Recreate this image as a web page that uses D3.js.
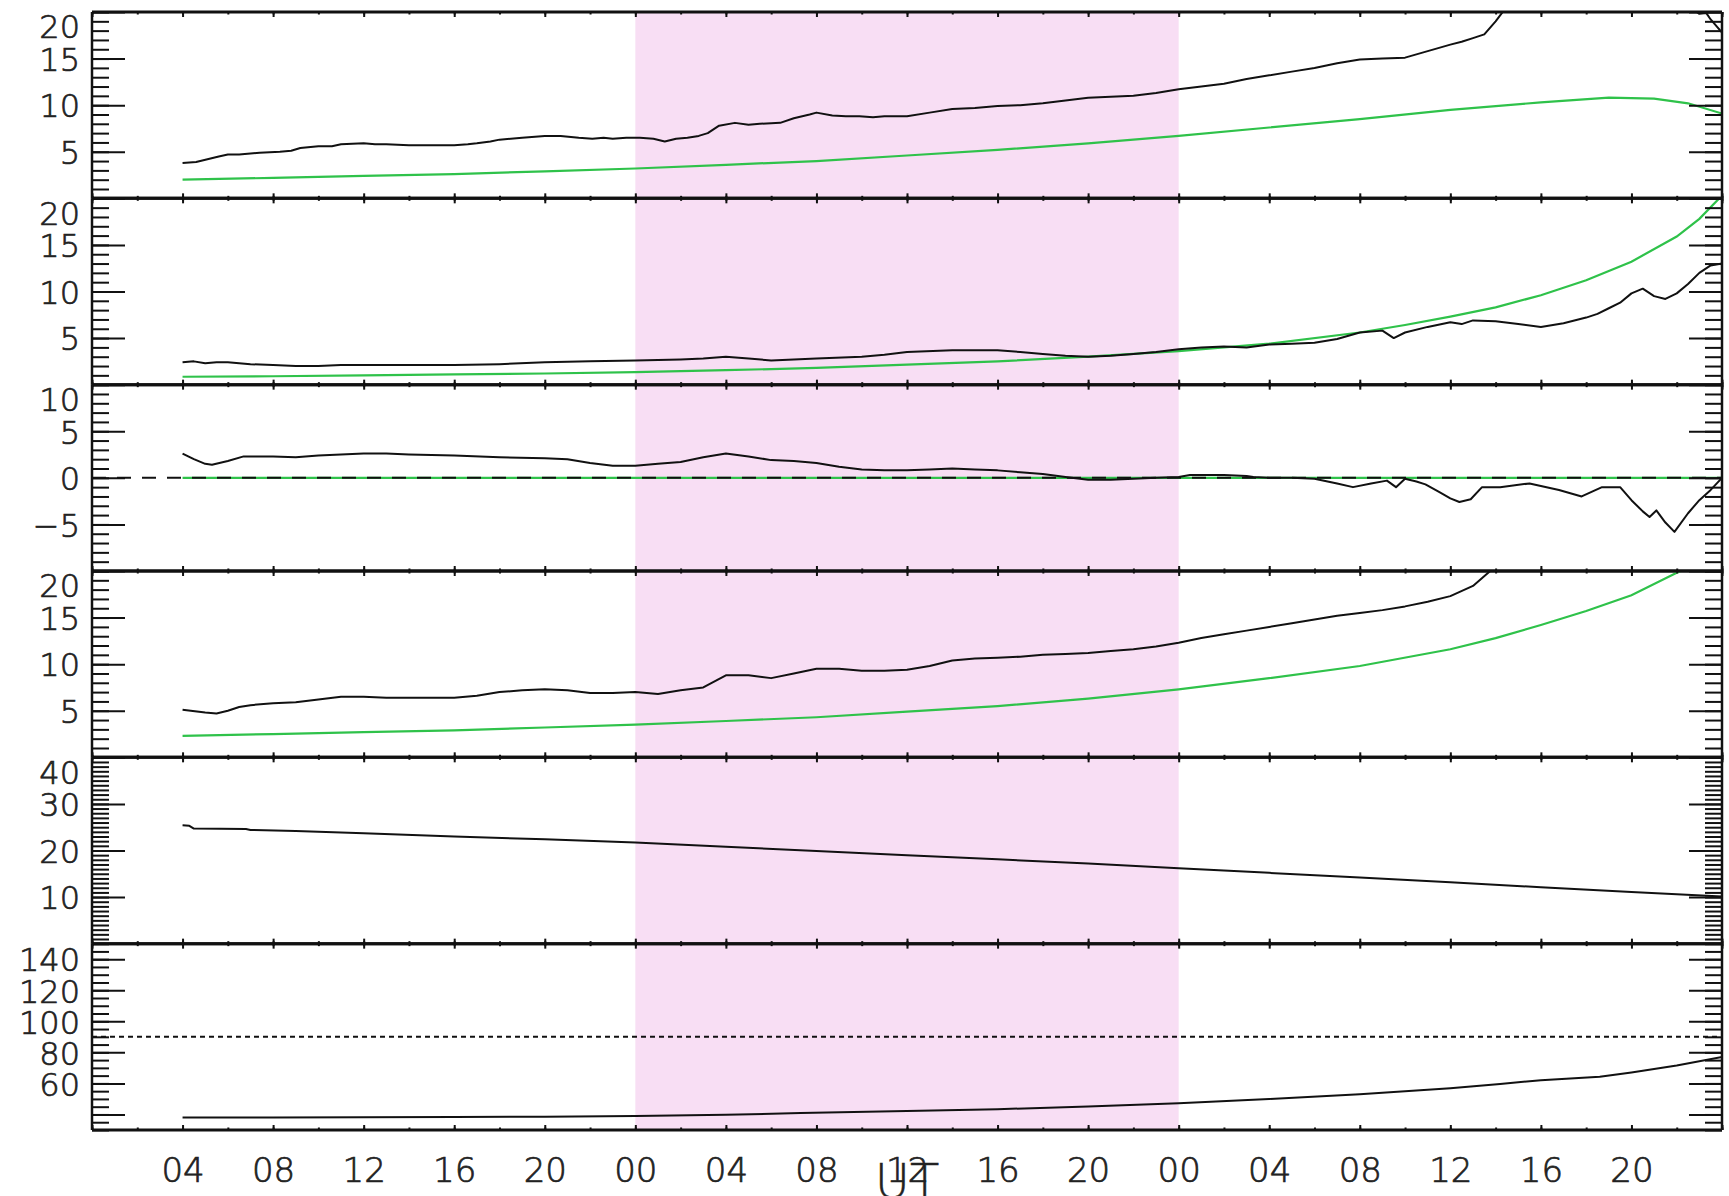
<!DOCTYPE html>
<html>
<head>
<meta charset="utf-8">
<script src="https://cdn.jsdelivr.net/npm/d3@7"></script>
<style>
  html, body { margin: 0; padding: 0; background: #fff; }
  svg { display: block; }
  text { font-family: "DejaVu Sans", sans-serif; font-weight: 200; fill: #222; stroke: #222; stroke-width: 0.7px; }
</style>
</head>
<body>
<svg id="chart" width="1729" height="1196"></svg>
<script>
// ---- time axis: hours counted from 00 UT of the first day ----
const hourDomain = [0, 72];
const majorHours = d3.range(0, 73, 4);
const minorHours = d3.range(0, 73, 2);
const labelHours = d3.range(4, 72, 4);
const shadeSpan = [24, 48];

// ---- panel y ranges and tick settings ----
const panelDomains = [[0, 20], [0, 20], [-10, 10], [0, 20], [0, 40], [30, 150]];
const majorTicks = [
  [5, 10, 15, 20], [5, 10, 15, 20], [-5, 0, 5, 10], [5, 10, 15, 20],
  [10, 20, 30, 40], [40, 60, 80, 100, 120, 140]
];
const labelTicks = [
  [5, 10, 15, 20], [5, 10, 15, 20], [-5, 0, 5, 10], [5, 10, 15, 20],
  [10, 20, 30, 40], [60, 80, 100, 120, 140]
];
const minorSteps = [1, 1, 1, 1, 1, 5];

// ---- series: [hour, value] ----
const p1Obs = [
  [4, 3.8], [4.6, 3.9], [5.1, 4.2], [5.6, 4.5], [6, 4.7], [6.5, 4.7], [7, 4.8], [7.4, 4.9],
  [8.3, 5.0], [8.8, 5.1], [9.2, 5.4], [10, 5.6], [10.6, 5.6], [11, 5.8], [12, 5.9], [12.5, 5.8],
  [13, 5.8], [14, 5.7], [15, 5.7], [16, 5.7], [16.6, 5.8], [17, 5.9], [17.6, 6.1], [18, 6.3],
  [19, 6.5], [20, 6.7], [20.7, 6.7], [21.5, 6.5], [22.1, 6.4], [22.6, 6.5], [23, 6.4],
  [23.6, 6.5], [24.2, 6.5], [24.8, 6.4], [25.3, 6.1], [25.8, 6.4], [26.3, 6.5], [26.8, 6.7],
  [27.2, 7.0], [27.7, 7.8], [28.4, 8.1], [29, 7.9], [29.5, 8.0], [30.4, 8.1], [31, 8.6],
  [31.7, 9.0], [32, 9.2], [32.7, 8.9], [33.3, 8.8], [33.9, 8.8], [34.5, 8.7], [35, 8.8],
  [36, 8.8], [37, 9.2], [38, 9.6], [39, 9.7], [40, 9.9], [41, 10.0], [42, 10.2], [43, 10.5],
  [44, 10.8], [45, 10.9], [46, 11.0], [47, 11.3], [48, 11.7], [49, 12.0], [50, 12.3],
  [51, 12.8], [52, 13.2], [53, 13.6], [54, 14.0], [55, 14.5], [56, 14.9], [57, 15.0],
  [58, 15.1], [59, 15.8], [60, 16.5], [60.5, 16.8], [61, 17.2], [61.5, 17.6], [62, 19.0],
  [62.5, 20.6], [63, 22.0], [65, 23.5], [68, 24.0], [70, 22.0], [70.6, 20.5], [71, 19.8],
  [71.3, 19.9], [71.5, 19.2], [72, 17.8]
];
const p1Model = [
  [4, 2.0], [8, 2.2], [12, 2.4], [16, 2.6], [20, 2.9], [24, 3.2], [28, 3.6], [32, 4.0],
  [36, 4.6], [40, 5.2], [44, 5.9], [48, 6.7], [52, 7.6], [56, 8.5], [60, 9.5], [64, 10.3],
  [67, 10.8], [69, 10.7], [70.5, 10.2], [72, 9.1]
];
const p2Obs = [
  [4, 2.4], [4.5, 2.5], [5, 2.3], [5.5, 2.4], [6, 2.4], [6.5, 2.3], [7, 2.2], [8, 2.1],
  [9, 2.0], [10, 2.0], [11, 2.1], [12, 2.1], [14, 2.1], [16, 2.1], [18, 2.2], [20, 2.4],
  [22, 2.5], [24, 2.6], [26, 2.7], [27, 2.8], [28, 3.0], [29, 2.8], [30, 2.6], [32, 2.8],
  [34, 3.0], [35, 3.2], [36, 3.5], [38, 3.7], [40, 3.7], [41, 3.5], [42, 3.3], [43, 3.1],
  [44, 3.0], [45, 3.1], [46, 3.3], [47, 3.5], [48, 3.8], [49, 4.0], [50, 4.1], [51, 4.0],
  [52, 4.3], [53, 4.4], [54, 4.5], [55, 4.9], [56, 5.6], [57, 5.8], [57.5, 5.0], [58, 5.6],
  [59, 6.2], [60, 6.7], [60.5, 6.5], [61, 6.9], [62, 6.8], [63, 6.5], [64, 6.2], [65, 6.6],
  [66, 7.2], [66.5, 7.6], [67, 8.2], [67.5, 8.8], [68, 9.8], [68.5, 10.3], [69, 9.5],
  [69.5, 9.2], [70, 9.8], [70.5, 10.8], [71, 12.0], [71.5, 12.8], [72, 13.0]
];
const p2Model = [
  [4, 0.85], [8, 0.9], [12, 1.0], [16, 1.1], [20, 1.2], [24, 1.35], [28, 1.55], [32, 1.8],
  [36, 2.15], [40, 2.5], [44, 3.0], [48, 3.6], [52, 4.4], [56, 5.6], [58, 6.4], [60, 7.3],
  [62, 8.3], [64, 9.6], [66, 11.2], [68, 13.2], [70, 15.9], [71, 17.8], [72, 20.3]
];
const p3Obs = [
  [4, 2.6], [4.5, 2.0], [5, 1.5], [5.3, 1.4], [6, 1.8], [6.7, 2.3], [8, 2.3], [9, 2.2],
  [10, 2.4], [11, 2.5], [12, 2.6], [13, 2.6], [14, 2.5], [16, 2.4], [18, 2.2], [20, 2.1],
  [21, 2.0], [22, 1.6], [23, 1.3], [24, 1.3], [25, 1.5], [26, 1.7], [27, 2.2], [28, 2.6],
  [29, 2.3], [30, 1.9], [31, 1.8], [32, 1.6], [33, 1.2], [34, 0.9], [35, 0.8], [36, 0.8],
  [37, 0.9], [38, 1.0], [39, 0.9], [40, 0.8], [41, 0.6], [42, 0.4], [43, 0.1], [44, -0.2],
  [45, -0.2], [46, -0.1], [47, 0.0], [48, 0.1], [48.5, 0.3], [49, 0.3], [50, 0.3], [51, 0.2],
  [51.3, 0.1], [52, 0.0], [53, 0.0], [54, -0.1], [55, -0.6], [55.7, -1.0], [56.5, -0.6],
  [57.2, -0.3], [57.6, -1.0], [58, -0.1], [58.5, -0.4], [58.9, -0.7], [59.5, -1.5],
  [60, -2.2], [60.4, -2.6], [60.9, -2.3], [61.4, -1.0], [62.2, -1.0], [63.5, -0.6],
  [64.8, -1.3], [65.8, -2.0], [66.7, -1.0], [67.5, -1.0], [68, -2.4], [68.5, -3.6],
  [68.8, -4.2], [69.1, -3.5], [69.5, -4.8], [69.9, -5.8], [70.5, -3.8], [71, -2.4],
  [71.5, -1.3], [72, 0.0]
];
const p3Model = [[4, 0], [72, 0]];
const p4Obs = [
  [4, 5.1], [5, 4.8], [5.5, 4.7], [6, 5.0], [6.5, 5.4], [7, 5.6], [8, 5.8], [9, 5.9],
  [10, 6.2], [11, 6.5], [12, 6.5], [13, 6.4], [14, 6.4], [16, 6.4], [17, 6.6], [18, 7.0],
  [19, 7.2], [20, 7.3], [21, 7.2], [22, 6.9], [23, 6.9], [24, 7.0], [25, 6.8], [26, 7.2],
  [27, 7.5], [28, 8.8], [29, 8.8], [30, 8.5], [31, 9.0], [32, 9.5], [33, 9.5], [34, 9.3],
  [35, 9.3], [36, 9.4], [37, 9.8], [38, 10.4], [39, 10.6], [40, 10.7], [41, 10.8], [42, 11.0],
  [43, 11.1], [44, 11.2], [45, 11.4], [46, 11.6], [47, 11.9], [48, 12.3], [49, 12.8],
  [50, 13.2], [51, 13.6], [52, 14.0], [53, 14.4], [54, 14.8], [55, 15.2], [56, 15.5],
  [57, 15.8], [58, 16.2], [59, 16.7], [60, 17.3], [61, 18.4], [62, 20.5], [63, 22.0]
];
const p4Model = [
  [4, 2.3], [8, 2.5], [12, 2.7], [16, 2.9], [20, 3.2], [24, 3.5], [28, 3.9], [32, 4.3],
  [36, 4.9], [40, 5.5], [44, 6.3], [48, 7.3], [52, 8.5], [56, 9.8], [60, 11.6], [62, 12.8],
  [64, 14.2], [66, 15.7], [68, 17.4], [70, 19.8], [72, 22.0]
];
const p5Obs = [
  [4, 25.4], [4.3, 25.3], [4.5, 24.7], [6.8, 24.6], [7, 24.4], [9, 24.2], [12, 23.7],
  [16, 23.0], [20, 22.4], [24, 21.7], [28, 20.8], [32, 19.9], [36, 19.0], [40, 18.1],
  [44, 17.2], [48, 16.2], [52, 15.2], [56, 14.2], [60, 13.2], [64, 12.1], [68, 11.1], [72, 10.1]
];
const p6Obs = [
  [4, 38.0], [8, 38.0], [12, 38.2], [16, 38.4], [20, 38.6], [24, 39.0], [28, 39.8],
  [31.3, 40.9], [36, 42.2], [40, 43.4], [44, 45.1], [48, 47.2], [52, 50.0], [56, 53.0],
  [60, 56.8], [62.2, 59.6], [64, 62.1], [66.6, 64.3], [68, 67.0], [70, 71.5], [72, 77.0]
];

const observed = [p1Obs, p2Obs, p3Obs, p4Obs, p5Obs, p6Obs];
const modelled = [p1Model, p2Model, p3Model, p4Model, null, null];
const dashedLevels = [null, null, 0, null, null, null];
const dottedLevels = [null, null, null, null, null, 90];

// ---- layout ----
const W = 1729, H = 1196;
const plotL = 92, plotR = 1722, plotT = 12, panelH = 186.33;
const nPanels = panelDomains.length;
const plotB = plotT + nPanels * panelH;

const svg = d3.select("#chart");
svg.append("rect").attr("width", W).attr("height", H).attr("fill", "#fff");

const x = d3.scaleLinear().domain(hourDomain).range([plotL, plotR]);

// shaded interval across all panels
svg.append("rect")
  .attr("x", x(shadeSpan[0])).attr("y", plotT)
  .attr("width", x(shadeSpan[1]) - x(shadeSpan[0]))
  .attr("height", plotB - plotT)
  .attr("fill", "#f8def4");

const defs = svg.append("defs");
const fmtY = v => (v < 0 ? "\u2212" + Math.abs(v) : String(v));

panelDomains.forEach((dom, i) => {
  const y0 = plotT + i * panelH;
  const y = d3.scaleLinear().domain(dom).range([y0 + panelH, y0]);
  const g = svg.append("g");

  defs.append("clipPath").attr("id", "clip" + i)
    .append("rect").attr("x", plotL).attr("y", y0)
    .attr("width", plotR - plotL).attr("height", panelH);

  const line = d3.line().x(d => x(d[0])).y(d => y(d[1]));
  const plot = g.append("g").attr("clip-path", `url(#clip${i})`);

  if (modelled[i]) {
    plot.append("path").datum(modelled[i])
      .attr("d", line).attr("fill", "none")
      .attr("stroke", "#2fc24a").attr("stroke-width", 2.2);
  }
  if (dashedLevels[i] !== null) {
    plot.append("line")
      .attr("x1", plotL).attr("x2", plotR)
      .attr("y1", y(dashedLevels[i])).attr("y2", y(dashedLevels[i]))
      .attr("stroke", "#111").attr("stroke-width", 2)
      .attr("stroke-dasharray", "14,11");
  }
  if (dottedLevels[i] !== null) {
    plot.append("line")
      .attr("x1", plotL).attr("x2", plotR)
      .attr("y1", y(dottedLevels[i])).attr("y2", y(dottedLevels[i]))
      .attr("stroke", "#111").attr("stroke-width", 2)
      .attr("stroke-dasharray", "5,4");
  }
  plot.append("path").datum(observed[i])
    .attr("d", line).attr("fill", "none")
    .attr("stroke", "#111").attr("stroke-width", 2)
    .attr("stroke-linejoin", "round");

  // y minor ticks (left and right, pointing inward)
  const minors = d3.range(dom[0], dom[1] + 1e-9, minorSteps[i]);
  g.append("g").attr("transform", `translate(${plotL},0)`)
    .call(d3.axisLeft(y).tickValues(minors).tickSize(-17).tickSizeOuter(0).tickFormat(""));
  g.append("g").attr("transform", `translate(${plotR},0)`)
    .call(d3.axisRight(y).tickValues(minors).tickSize(-17).tickSizeOuter(0).tickFormat(""));

  // y major ticks
  g.append("g").attr("transform", `translate(${plotL},0)`)
    .call(d3.axisLeft(y).tickValues(majorTicks[i]).tickSize(-33).tickSizeOuter(0).tickFormat(""));
  g.append("g").attr("transform", `translate(${plotR},0)`)
    .call(d3.axisRight(y).tickValues(majorTicks[i]).tickSize(-33).tickSizeOuter(0).tickFormat(""));

  // y labels
  const labelAxis = g.append("g").attr("transform", `translate(${plotL},0)`)
    .call(d3.axisLeft(y).tickValues(labelTicks[i]).tickSize(0).tickPadding(12).tickFormat(fmtY));
  labelAxis.selectAll("text")
    .attr("font-size", 32)
    .attr("dy", v => (v === dom[1] ? 14 + 11.8 : 11.8) + "px");

  // x ticks on top and bottom edges of the panel
  [[d3.axisTop, y0], [d3.axisBottom, y0 + panelH]].forEach(([ax, yy]) => {
    g.append("g").attr("transform", `translate(0,${yy})`)
      .call(ax(x).tickValues(minorHours).tickSize(-2.5).tickSizeOuter(0).tickFormat(""));
    g.append("g").attr("transform", `translate(0,${yy})`)
      .call(ax(x).tickValues(majorHours).tickSize(-5).tickSizeOuter(0).tickFormat(""));
  });

  // frame
  g.append("line").attr("x1", plotL).attr("x2", plotR).attr("y1", y0).attr("y2", y0)
    .attr("stroke", "#111").attr("stroke-width", 3);
  g.append("line").attr("x1", plotL).attr("x2", plotR).attr("y1", y0 + panelH).attr("y2", y0 + panelH)
    .attr("stroke", "#111").attr("stroke-width", 3);
  g.append("line").attr("x1", plotL).attr("x2", plotL).attr("y1", y0).attr("y2", y0 + panelH)
    .attr("stroke", "#111").attr("stroke-width", 2.5);
  g.append("line").attr("x1", plotR).attr("x2", plotR).attr("y1", y0).attr("y2", y0 + panelH)
    .attr("stroke", "#111").attr("stroke-width", 2.5);
});

// axis tick styling
svg.selectAll(".domain").remove();
svg.selectAll(".tick line").attr("stroke", "#111").attr("stroke-width", 2);

// time labels under the last panel
const hourFmt = h => String(h % 24).padStart(2, "0");
const timeAxis = svg.append("g").attr("transform", `translate(0,${plotB})`)
  .call(d3.axisBottom(x).tickValues(labelHours).tickSize(0).tickPadding(28).tickFormat(hourFmt));
timeAxis.select(".domain").remove();
timeAxis.selectAll("text").attr("font-size", 34);

// axis title
svg.append("text")
  .attr("x", (plotL + plotR) / 2).attr("y", 1198)
  .attr("text-anchor", "middle")
  .attr("font-size", 48)
  .style("stroke-width", "0.4px")
  .text("UT");
</script>
</body>
</html>
